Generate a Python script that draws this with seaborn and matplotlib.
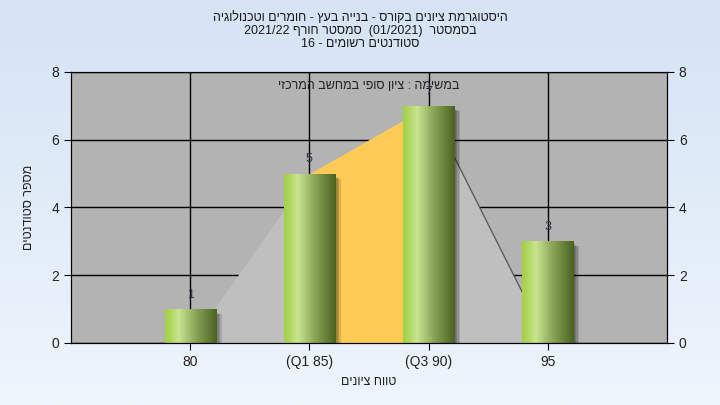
import re
import numpy as np
import pandas as pd
import matplotlib
matplotlib.use('Agg')
import matplotlib.pyplot as plt
import seaborn as sns
from matplotlib.colors import LinearSegmentedColormap
from matplotlib.patches import Rectangle

# chart data
title_lines = [
    "היסטוגרמת ציונים בקורס - בנייה בעץ - חומרים וטכנולוגיה",
    "בסמסטר  (01/2021)  סמסטר חורף 2021/22",
    "סטודנטים רשומים - 16",
]
subtitle = "במשימה : ציון סופי במחשב המרכזי"
x_label = "טווח ציונים"
y_label = "מספר סטודנטים"
grades = ["80", "(Q1 85)", "(Q3 90)", "95"]
students = [1, 5, 7, 3]
curve = [0, 5, 7, 0]
q1_idx, q3_idx = 1, 2
y_ticks = [0, 2, 4, 6, 8]


def visual(s):
    # simple RTL reordering so matplotlib draws hebrew the right way round
    tokens = re.findall(r'[A-Za-z0-9/.]+|.', s)
    mirror = {'(': ')', ')': '('}
    return ''.join(mirror.get(t, t) for t in reversed(tokens))


plt.rcParams['font.family'] = ['Liberation Sans', 'DejaVu Sans']

fig = plt.figure(figsize=(7.2, 4.05), dpi=100)

# background gradient
bg = fig.add_axes([0, 0, 1, 1], zorder=-1)
bg_cmap = LinearSegmentedColormap.from_list('bg', ['#eef5fd', '#d5e3f4'])
bg.imshow(np.linspace(0, 1, 256).reshape(-1, 1)[::-1], cmap=bg_cmap,
          aspect='auto', extent=[0, 1, 0, 1])
bg.axis('off')

ax = fig.add_axes([71 / 720, 62 / 405, 596 / 720, 271 / 405])
ax.set_facecolor('#b3b3b3')

df = pd.DataFrame({'grade': grades, 'students': students})
sns.barplot(data=df, x='grade', y='students', ax=ax, width=0.43,
            color='#9bcb3b', saturation=1, zorder=2)

# distribution polygon with quartile band
xs = np.arange(len(curve))
ax.fill_between(xs, curve, color='#bfbfbf', lw=0, zorder=1)
ax.fill_between(xs[q1_idx:q3_idx + 1], curve[q1_idx:q3_idx + 1],
                color='#fdca56', lw=0, zorder=1.1)
ax.plot(xs[q3_idx:], curve[q3_idx:], color='#555555', lw=0.9, zorder=1.2)

# cylinder-like gradient and shadow on each bar
bar_cmap = LinearSegmentedColormap.from_list(
    'bar', [(0, '#a0d040'), (0.27, '#c9e490'), (0.6, '#89a356'), (1, '#4a6220')])
grad = np.linspace(0, 1, 256).reshape(1, -1)
for p in list(ax.patches):
    x0, y0, w, h = p.get_x(), p.get_y(), p.get_width(), p.get_height()
    for k in range(4):
        ax.add_patch(Rectangle((x0 + 0.012 + k * 0.012, y0 - 0.04 - k * 0.02),
                               w, h - 0.05, color='black', alpha=0.13, lw=0,
                               zorder=1.8))
    im = ax.imshow(grad, cmap=bar_cmap, extent=[x0, x0 + w, y0, y0 + h],
                   aspect='auto', zorder=2.1)
    im.set_clip_path(p)

for i, v in enumerate(students):
    ax.annotate(str(v), (i, v), xytext=(0, 6), textcoords='offset points',
                ha='center', va='bottom', fontsize=9, color='#30304a', zorder=5)

ax.set_xlim(-1, 4)
ax.set_ylim(0, 8)
ax.set_yticks(y_ticks)
ax.set_axisbelow(True)
ax.grid(True, color='black', lw=1)
ax.tick_params(direction='out', length=5, color='black', labelsize=10,
               labelcolor='#222222')
for s in ax.spines.values():
    s.set_color('black')
ax.set_xlabel(visual(x_label), fontsize=9, labelpad=5, color='#222222')
ax.set_ylabel(visual(y_label), fontsize=9, labelpad=12, color='#222222')

ax2 = ax.twinx()
ax2.set_ylim(0, 8)
ax2.set_yticks(y_ticks)
ax2.tick_params(direction='out', length=5, color='black', labelsize=10,
                labelcolor='#222222')

ax.text(0.5, 0.95, visual(subtitle), transform=ax.transAxes, ha='center',
        va='center', fontsize=9, color='#222222', zorder=6)

fig.text(0.5, 1 - 11 / 405, '\n'.join(visual(t) for t in title_lines),
         ha='center', va='top', fontsize=9, color='#1a1a1a', linespacing=1.1)

fig.savefig('out.png', dpi=100)
